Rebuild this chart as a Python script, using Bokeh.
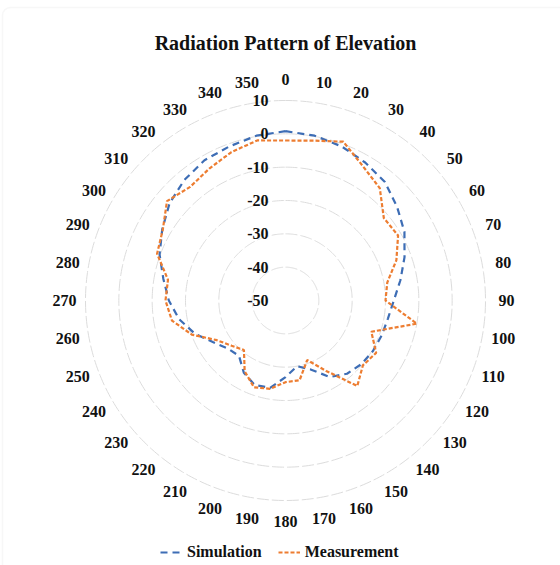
import numpy as np
from bokeh.plotting import figure
from bokeh.models import Legend, LegendItem, BoxAnnotation
from bokeh.core.properties import value
from bokeh.embed import file_html
from bokeh.resources import INLINE

# ---------------- data ----------------
angles = list(range(0, 360, 10))
simulation = [0.8, 0.2, -0.8, -2.2, -3.6, -6.3, -8.8, -12.0, -15.0, -17.5,
              -18.8, -19.3, -19.7, -20.3, -21.3, -23.5, -28.0, -30.0, -27.0, -23.4,
              -23.0, -25.0, -28.3, -27.5, -25.0, -21.0, -17.6, -15.0, -12.8, -9.8,
              -7.3, -4.6, -2.8, -1.4, -0.8, 0.2]
measurement = [-2.0, -1.3, 0.7, -3.5, -6.0, -11.5, -11.0, -14.6, -19.0, -20.0,
               -10.0, -22.6, -18.6, -19.7, -16.5, -25.6, -31.0, -25.7, -25.5, -23.1,
               -22.3, -25.5, -30.6, -28.9, -26.2, -20.1, -15.4, -14.0, -14.2, -9.0,
               -7.5, -3.6, -5.5, -4.3, -2.6, -1.25]
radial_ticks = [10, 0, -10, -20, -30, -40, -50]
angle_labels = [str(a) for a in angles]
r_min, r_max = -50, 10
title_text = "Radiation Pattern of Elevation"

# ---------------- geometry ----------------
W, H = 560, 565
cx, cy = 285, 300            # centre of the polar plot in pixels
ppu = 200.0 / (r_max - r_min)  # pixels per dB
x_range = (-cx / ppu, (W - cx) / ppu)
y_range = (-(H - cy) / ppu, cy / ppu)

def to_xy(ang, vals):
    th = np.deg2rad(np.asarray(ang, dtype=float))
    r = np.asarray(vals, dtype=float) - r_min
    return r * np.sin(th), r * np.cos(th)

FONT = value("Liberation Serif")

p = figure(width=W, height=H, x_range=x_range, y_range=y_range,
           output_backend="svg", toolbar_location=None, min_border=0,
           x_axis_type=None, y_axis_type=None)
p.grid.visible = False
p.outline_line_color = None
p.background_fill_color = "white"
p.border_fill_color = "white"

# card border
card_kw = dict(left=(2 - cx) / ppu, right=x_range[1] + 10,
               top=(cy - 7) / ppu, bottom=y_range[0] - 10,
               fill_alpha=0, line_color="#e6e6e6", line_width=1.5)
try:
    card = BoxAnnotation(border_radius=8, **card_kw)
except Exception:
    card = BoxAnnotation(**card_kw)
p.add_layout(card)

# rings
ring_vals = [v for v in radial_ticks if v > r_min]
tt = np.linspace(0, 360, 361)
for v in ring_vals:
    rx, ry = to_xy(tt, [v] * len(tt))
    p.line(rx, ry, line_color="#dcdcdc", line_width=1, line_dash="12 3")

# series
sx, sy = to_xy(angles + [angles[0]], simulation + [simulation[0]])
mx, my = to_xy(angles + [angles[0]], measurement + [measurement[0]])
r_sim = p.line(sx, sy, line_color="#3d6db5", line_width=2.2, line_dash="7 5")
r_mea = p.line(mx, my, line_color="#ED7D31", line_width=2.2, line_dash="4 2")

# radial tick labels
p.text(x=[-17 / ppu] * len(radial_ticks), y=[v - r_min for v in radial_ticks],
       text=[str(v) for v in radial_ticks], text_font=FONT,
       text_font_style="bold", text_font_size="16px", text_color="#111111",
       text_align="right", text_baseline="middle")

# angle labels
lx, ly = to_xy(angles, [r_max + 221 / ppu - (r_max - r_min)] * len(angles))
p.text(x=lx, y=ly, text=angle_labels, text_font=FONT, text_font_style="bold",
       text_font_size="16px", text_color="#111111",
       text_align="center", text_baseline="middle")

# title
p.text(x=[0], y=[(cy - 42) / ppu], text=[title_text], text_font=FONT,
       text_font_style="bold", text_font_size="20px", text_color="#111111",
       text_align="center", text_baseline="middle")

legend = Legend(items=[LegendItem(label="Simulation", renderers=[r_sim]),
                       LegendItem(label="Measurement", renderers=[r_mea])],
                orientation="horizontal", location=(158, 2),
                label_text_font="Liberation Serif", label_text_font_style="bold",
                label_text_font_size="16px", label_text_color="#111111",
                glyph_width=22, glyph_height=16, spacing=16, padding=2,
                margin=0, label_standoff=5, border_line_alpha=0,
                background_fill_alpha=0)
p.add_layout(legend, "center")

open("out.html", "w").write(file_html(p, INLINE))
